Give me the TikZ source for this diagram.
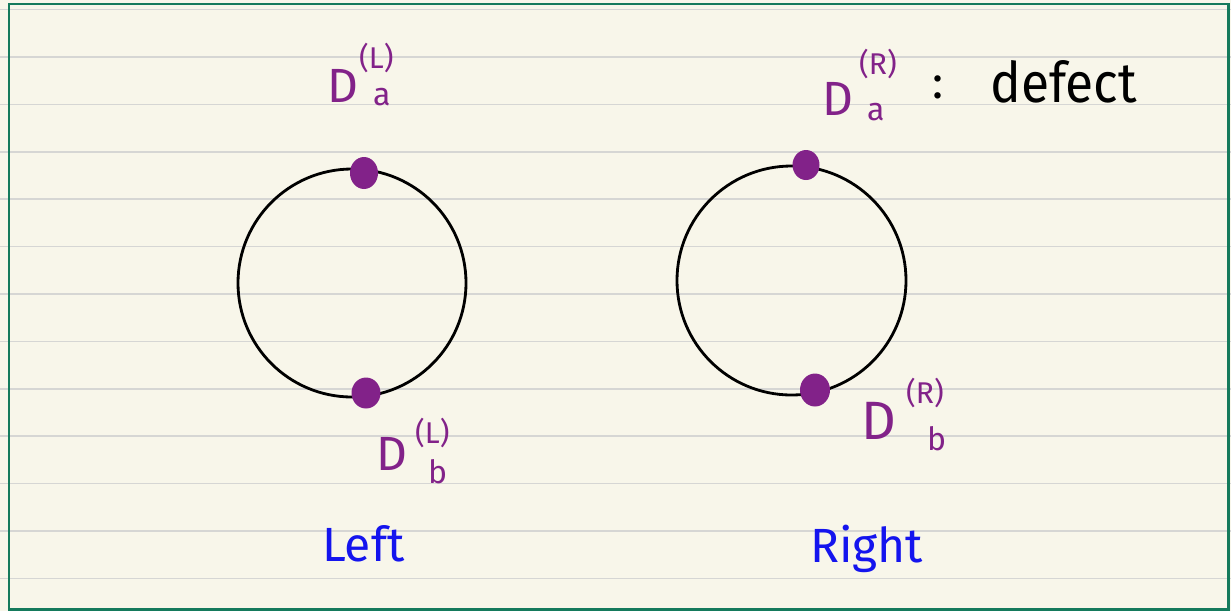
\documentclass[tikz,border=0pt]{standalone}
\usepackage{fontspec}
\setmainfont{Fira Sans}
\definecolor{paper}{HTML}{F8F6EA}
\definecolor{rule}{HTML}{D6D6D4}
\definecolor{frame}{HTML}{157A5C}
\definecolor{defpurple}{HTML}{822289}
\definecolor{penblue}{HTML}{1414EE}
\tikzset{
  px/.style={x=1pt,y=-1pt},
  lbl/.style={inner sep=0pt,anchor=base west},
  bigD/.style={lbl,text=defpurple,font=\fontsize{48}{50}\selectfont},
  supx/.style={lbl,text=defpurple,font=\fontsize{30}{32}\selectfont},
  subx/.style={lbl,text=defpurple,font=\fontsize{32}{34}\selectfont},
  sidelbl/.style={lbl,text=penblue,font=\fontsize{48}{50}\selectfont},
  ring/.style={draw=black,line width=2.8pt},
  defectdot/.style={fill=defpurple,draw=none}
}
\begin{document}
\begin{tikzpicture}[px]
\useasboundingbox (0,0) rectangle (1231,611);
\fill[paper] (0,0) rectangle (1231,611);
\foreach \k in {0,...,12}{
  \draw[rule,line width=1.6pt] (0,{9.5+47.4*\k}) -- (1231,{9.5+47.4*\k});
}
\draw[frame,line width=2.8pt] (9,4) rectangle (1228.5,609.5);
% circles
\node[ring,circle,minimum size=228pt,inner sep=0pt] (cl) at (352,283) {};
\node[ring,circle,minimum size=229pt,inner sep=0pt] (cr) at (791.5,280.5) {};
% defects
\fill[defectdot] (364,173) ellipse [x radius=14pt,y radius=16pt];
\fill[defectdot] (366,393) ellipse [x radius=14.5pt,y radius=15.5pt];
\fill[defectdot] (806,165) ellipse [x radius=13.5pt,y radius=15pt];
\fill[defectdot] (815,390) ellipse [x radius=15pt,y radius=16.5pt];
% labels left top
\node[bigD] (dla) at (327,102) {D};
\node[supx] (dlas) at (359,68) {(L)};
\node[subx] (dlab) at (373,105) {a};
% labels right top
\node[bigD] (dra) at (822,115) {D};
\node[supx] (dras) at (859,74) {(R)};
\node[subx] (drab) at (867,120) {a};
\node[lbl,font=\fontsize{46}{48}\selectfont] (colon) at (932,98) {:};
\node[lbl,font=\fontsize{56}{58}\selectfont,xscale=0.92] (def) at (990,102) {defect};
% labels left bottom
\node[bigD] (dlb) at (376,470) {D};
\node[supx] (dlbs) at (415,443) {(L)};
\node[subx] (dlbb) at (428,483) {b};
% labels right bottom
\node[bigD,font=\fontsize{54}{56}\selectfont] (drb) at (861,439) {D};
\node[supx] (drbs) at (906,403) {(R)};
\node[subx] (drbb) at (927,450) {b};
% side labels
\node[sidelbl] (left) at (322,561) {Left};
\node[sidelbl] (right) at (810,562) {Right};
\end{tikzpicture}
\end{document}
